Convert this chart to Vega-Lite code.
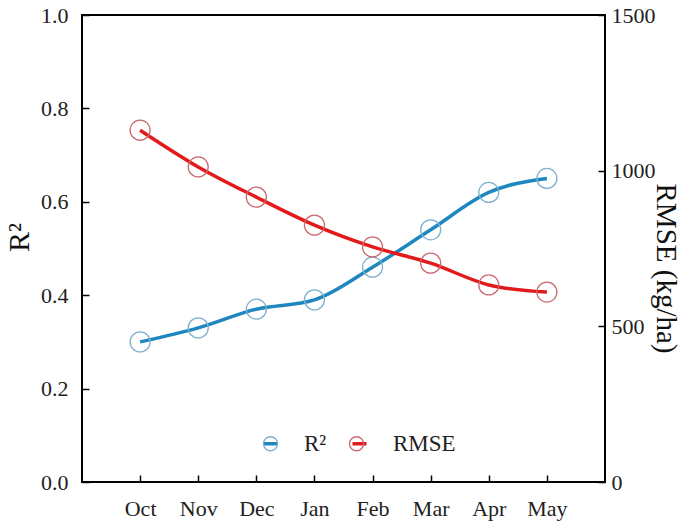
{
  "$schema": "https://vega.github.io/schema/vega-lite/v6.json",
  "width": 523,
  "height": 467,
  "autosize": {"type": "none"},
  "padding": {"left": 82, "top": 15, "right": 80, "bottom": 39},
  "background": "white",
  "config": {
    "font": "Liberation Serif",
    "view": {"stroke": "black", "strokeWidth": 2},
    "axis": {
      "domain": false,
      "grid": false,
      "tickColor": "black",
      "tickWidth": 1.5,
      "tickSize": -7,
      "labelColor": "#222",
      "labelFontSize": 22,
      "labelFont": "Liberation Serif",
      "titleFont": "Liberation Serif",
      "titleFontWeight": "normal",
      "titleColor": "#111"
    },
    "legend": {
      "labelFont": "Liberation Serif",
      "labelFontSize": 23,
      "labelColor": "#222"
    }
  },
  "data": {
    "values": [
      {"month": "Oct", "series": "R²", "value": 0.30},
      {"month": "Nov", "series": "R²", "value": 0.33},
      {"month": "Dec", "series": "R²", "value": 0.37},
      {"month": "Jan", "series": "R²", "value": 0.39},
      {"month": "Feb", "series": "R²", "value": 0.46},
      {"month": "Mar", "series": "R²", "value": 0.54},
      {"month": "Apr", "series": "R²", "value": 0.62},
      {"month": "May", "series": "R²", "value": 0.65},
      {"month": "Oct", "series": "RMSE", "value": 1130},
      {"month": "Nov", "series": "RMSE", "value": 1012},
      {"month": "Dec", "series": "RMSE", "value": 915},
      {"month": "Jan", "series": "RMSE", "value": 825},
      {"month": "Feb", "series": "RMSE", "value": 755},
      {"month": "Mar", "series": "RMSE", "value": 703},
      {"month": "Apr", "series": "RMSE", "value": 633},
      {"month": "May", "series": "RMSE", "value": 610}
    ]
  },
  "encoding": {
    "x": {
      "field": "month",
      "type": "ordinal",
      "sort": ["Oct", "Nov", "Dec", "Jan", "Feb", "Mar", "Apr", "May"],
      "scale": {"type": "point", "padding": 1.09},
      "axis": {"title": null, "labelAngle": 0, "labelPadding": 23, "orient": "bottom"}
    }
  },
  "layer": [
    {
      "transform": [{"filter": "datum.series === 'R²'"}],
      "encoding": {
        "y": {
          "field": "value",
          "type": "quantitative",
          "scale": {"domain": [0, 1]},
          "axis": {
            "orient": "left",
            "title": "R²",
            "titleFontSize": 30,
            "titlePadding": 6,
            "titleY": 222,
            "values": [0, 0.2, 0.4, 0.6, 0.8, 1.0],
            "format": ".1f",
            "labelPadding": 21
          }
        }
      },
      "layer": [
        {
          "mark": {"type": "line", "interpolate": "monotone", "strokeWidth": 3.5},
          "encoding": {
            "color": {
              "field": "series",
              "type": "nominal",
              "scale": {"domain": ["R²", "RMSE"], "range": ["#1f87c0", "#e31a1c"]},
              "legend": {
                "title": null,
                "orient": "none",
                "direction": "horizontal",
                "legendX": 177,
                "legendY": 417,
                "padding": 0,
                "symbolType": "M-1,0L1,0",
                "symbolSize": 196,
                "symbolStrokeWidth": 3.5,
                "labelOffset": 22,
                "columnPadding": 18
              }
            }
          }
        },
        {
          "mark": {"type": "point", "filled": false, "size": 400, "strokeWidth": 1.3, "opacity": 1},
          "encoding": {
            "stroke": {
              "field": "series",
              "type": "nominal",
              "sort": ["R²", "RMSE"],
              "scale": {"range": ["#7fb0cc", "#c86a70"]},
              "legend": {
                "title": null,
                "orient": "none",
                "direction": "horizontal",
                "legendX": 177,
                "legendY": 417,
                "padding": 0,
                "symbolType": "circle",
                "symbolSize": 196,
                "symbolStrokeWidth": 1.3,
                "symbolFillColor": "transparent",
                "labelOffset": 22,
                "columnPadding": 18,
                "labelOpacity": 0
              }
            }
          }
        }
      ]
    },
    {
      "transform": [{"filter": "datum.series === 'RMSE'"}],
      "encoding": {
        "y": {
          "field": "value",
          "type": "quantitative",
          "scale": {"domain": [0, 1500]},
          "axis": {
            "orient": "right",
            "title": "RMSE (kg/ha)",
            "titleFontSize": 29,
            "titlePadding": -5,
            "titleY": 253,
            "values": [0, 500, 1000, 1500],
            "format": "d",
            "labelPadding": 13
          }
        }
      },
      "layer": [
        {
          "mark": {"type": "line", "interpolate": "monotone", "strokeWidth": 3.5},
          "encoding": {
            "color": {"field": "series", "type": "nominal"}
          }
        },
        {
          "mark": {"type": "point", "filled": false, "size": 400, "strokeWidth": 1.3, "opacity": 1},
          "encoding": {
            "stroke": {"field": "series", "type": "nominal", "sort": ["R²", "RMSE"]}
          }
        }
      ]
    }
  ],
  "resolve": {"scale": {"y": "independent"}}
}
